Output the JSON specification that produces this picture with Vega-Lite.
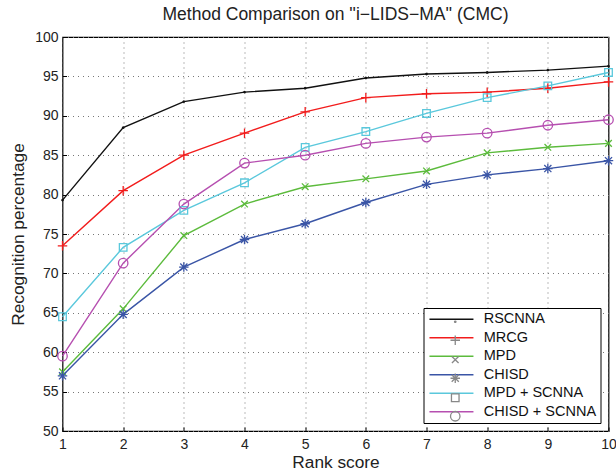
{
  "$schema": "https://vega.github.io/schema/vega-lite/v6.json",
  "width": 546,
  "height": 394,
  "autosize": {"type": "none"},
  "padding": {"left": 62.5, "top": 37, "right": 7.5, "bottom": 39},
  "background": "white",
  "title": {"text": "Method Comparison on ''i−LIDS−MA'' (CMC)", "font": "Liberation Sans", "fontSize": 17.5, "fontWeight": "normal", "color": "#222", "offset": 7},
  "config": {
    "view": {"stroke": "#000", "strokeWidth": 1.2},
    "axis": {"labelFont": "Liberation Sans", "titleFont": "Liberation Sans", "labelFontSize": 14, "titleFontSize": 17.3, "titleFontWeight": "normal", "labelColor": "#222", "titleColor": "#222", "domain": false, "tickColor": "#000", "gridColor": "#777", "gridDash": [1, 4], "gridOpacity": 1, "labelFlush": false}
  },
  "data": {"values": [
    {"rank": 1, "method": "RSCNNA", "value": 79.3},
    {"rank": 2, "method": "RSCNNA", "value": 88.5},
    {"rank": 3, "method": "RSCNNA", "value": 91.8},
    {"rank": 4, "method": "RSCNNA", "value": 93.0},
    {"rank": 5, "method": "RSCNNA", "value": 93.5},
    {"rank": 6, "method": "RSCNNA", "value": 94.8},
    {"rank": 7, "method": "RSCNNA", "value": 95.3},
    {"rank": 8, "method": "RSCNNA", "value": 95.5},
    {"rank": 9, "method": "RSCNNA", "value": 95.8},
    {"rank": 10, "method": "RSCNNA", "value": 96.3},
    {"rank": 1, "method": "MRCG", "value": 73.5},
    {"rank": 2, "method": "MRCG", "value": 80.5},
    {"rank": 3, "method": "MRCG", "value": 85.0},
    {"rank": 4, "method": "MRCG", "value": 87.8},
    {"rank": 5, "method": "MRCG", "value": 90.5},
    {"rank": 6, "method": "MRCG", "value": 92.3},
    {"rank": 7, "method": "MRCG", "value": 92.8},
    {"rank": 8, "method": "MRCG", "value": 93.0},
    {"rank": 9, "method": "MRCG", "value": 93.5},
    {"rank": 10, "method": "MRCG", "value": 94.3},
    {"rank": 1, "method": "MPD", "value": 57.5},
    {"rank": 2, "method": "MPD", "value": 65.5},
    {"rank": 3, "method": "MPD", "value": 74.8},
    {"rank": 4, "method": "MPD", "value": 78.8},
    {"rank": 5, "method": "MPD", "value": 81.0},
    {"rank": 6, "method": "MPD", "value": 82.0},
    {"rank": 7, "method": "MPD", "value": 83.0},
    {"rank": 8, "method": "MPD", "value": 85.3},
    {"rank": 9, "method": "MPD", "value": 86.0},
    {"rank": 10, "method": "MPD", "value": 86.5},
    {"rank": 1, "method": "CHISD", "value": 57.0},
    {"rank": 2, "method": "CHISD", "value": 64.8},
    {"rank": 3, "method": "CHISD", "value": 70.8},
    {"rank": 4, "method": "CHISD", "value": 74.3},
    {"rank": 5, "method": "CHISD", "value": 76.3},
    {"rank": 6, "method": "CHISD", "value": 79.0},
    {"rank": 7, "method": "CHISD", "value": 81.3},
    {"rank": 8, "method": "CHISD", "value": 82.5},
    {"rank": 9, "method": "CHISD", "value": 83.3},
    {"rank": 10, "method": "CHISD", "value": 84.3},
    {"rank": 1, "method": "MPD + SCNNA", "value": 64.5},
    {"rank": 2, "method": "MPD + SCNNA", "value": 73.3},
    {"rank": 3, "method": "MPD + SCNNA", "value": 78.0},
    {"rank": 4, "method": "MPD + SCNNA", "value": 81.5},
    {"rank": 5, "method": "MPD + SCNNA", "value": 86.0},
    {"rank": 6, "method": "MPD + SCNNA", "value": 88.0},
    {"rank": 7, "method": "MPD + SCNNA", "value": 90.3},
    {"rank": 8, "method": "MPD + SCNNA", "value": 92.3},
    {"rank": 9, "method": "MPD + SCNNA", "value": 93.8},
    {"rank": 10, "method": "MPD + SCNNA", "value": 95.5},
    {"rank": 1, "method": "CHISD + SCNNA", "value": 59.5},
    {"rank": 2, "method": "CHISD + SCNNA", "value": 71.3},
    {"rank": 3, "method": "CHISD + SCNNA", "value": 78.8},
    {"rank": 4, "method": "CHISD + SCNNA", "value": 84.0},
    {"rank": 5, "method": "CHISD + SCNNA", "value": 85.0},
    {"rank": 6, "method": "CHISD + SCNNA", "value": 86.5},
    {"rank": 7, "method": "CHISD + SCNNA", "value": 87.3},
    {"rank": 8, "method": "CHISD + SCNNA", "value": 87.8},
    {"rank": 9, "method": "CHISD + SCNNA", "value": 88.8},
    {"rank": 10, "method": "CHISD + SCNNA", "value": 89.5}
  ]},
  "encoding": {
    "x": {"field": "rank", "type": "quantitative", "scale": {"domain": [1, 10], "nice": false}, "axis": {"title": "Rank score", "values": [1,2,3,4,5,6,7,8,9,10], "tickSize": -4, "labelPadding": 10, "titlePadding": 2}},
    "y": {"field": "value", "type": "quantitative", "scale": {"domain": [50, 100], "nice": false}, "axis": {"title": "Recognition percentage", "values": [50,55,60,65,70,75,80,85,90,95,100], "tickSize": -4, "labelPadding": 8.5, "titlePadding": 7}},
    "color": {"field": "method", "type": "nominal", "scale": {"domain": ["RSCNNA", "MRCG", "MPD", "CHISD", "MPD + SCNNA", "CHISD + SCNNA"], "range": ["#111111", "#f21c1c", "#5cbb3c", "#3a55a6", "#5ac8dc", "#b64fb0"]},
      "legend": {"title": null, "orient": "bottom-right", "offset": 8, "fillColor": "white", "strokeColor": "#000", "padding": 4, "labelFont": "Liberation Sans", "labelFontSize": 14.5, "labelColor": "#111", "rowPadding": 3.5, "symbolType": "M-11,0H11", "symbolSize": 16, "symbolStrokeWidth": 1.3, "symbolOffset": 16.7, "labelOffset": 25}
    }
  },
  "layer": [
    {"mark": {"type": "line", "strokeWidth": 1.4}},
    {"mark": {"type": "point", "filled": false, "size": 90, "strokeWidth": 1.3, "opacity": 1},
     "encoding": {"shape": {"field": "method", "type": "nominal", "scale": {"domain": ["RSCNNA", "MRCG", "MPD", "CHISD", "MPD + SCNNA", "CHISD + SCNNA"], "range": [
       "M-0.15,0A0.15,0.15 0 1,0 0.15,0A0.15,0.15 0 1,0 -0.15,0",
       "M-1,0H1M0,-1V1",
       "M-0.7,-0.7L0.7,0.7M-0.7,0.7L0.7,-0.7",
       "M-1,0H1M0,-1V1M-0.75,-0.75L0.75,0.75M-0.75,0.75L0.75,-0.75",
       "M-0.8,-0.8H0.8V0.8H-0.8Z",
       "M-1,0A1,1 0 1,0 1,0A1,1 0 1,0 -1,0"
     ]}, "legend": {"title": null, "orient": "none", "legendX": 381.5, "legendY": 273.5, "padding": 4, "labelFont": "Liberation Sans", "labelFontSize": 14.5, "labelOpacity": 0, "labelExpr": "' '", "rowPadding": 3.5, "symbolSize": 90, "symbolStrokeWidth": 1.3, "symbolOffset": 0, "labelOffset": 5,
       "encode": {"symbols": {"update": {"stroke": {"scale": "color", "field": "value"}, "fill": {"value": "transparent"}, "strokeWidth": {"value": 1.3}}}}}}}}
  ]
}
